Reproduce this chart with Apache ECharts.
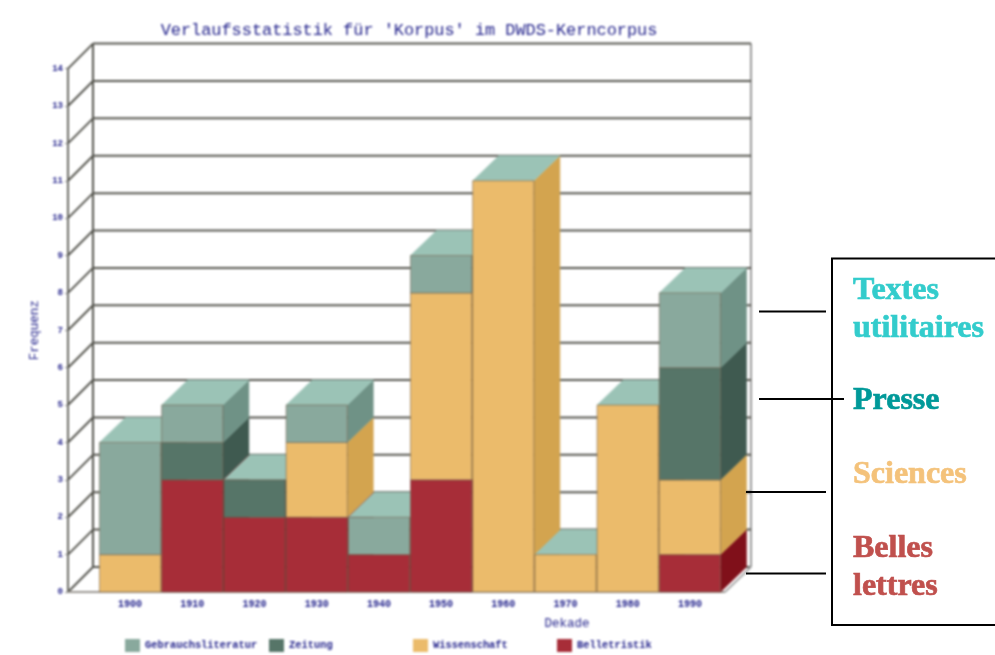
<!DOCTYPE html>
<html><head><meta charset="utf-8">
<style>html,body{margin:0;padding:0;background:#fff}
#c,#n{width:995px;height:655px;position:absolute;left:0;top:0}
#c{filter:blur(1px)}</style>
<script src="https://cdn.jsdelivr.net/npm/echarts@6/dist/echarts.min.js"></script>
</head><body><div id="c"></div><div id="n"></div>
<script>
const categories=['1900','1910','1920','1930','1940','1950','1960','1970','1980','1990'];
const belletristik=[0,3,2,2,1,3,0,0,0,1];
const wissenschaft=[1,0,0,2,0,5,11,1,5,2];
const zeitung=[0,1,1,0,0,0,0,0,0,3];
const gebrauch=[3,1,0,1,1,1,0,0,0,2];
const yTicks=[0,1,2,3,4,5,6,7,8,9,10,11,12,13,14];
const layers=[
 {name:'Belletristik',values:belletristik,front:'#A72D38',side:'#80101A'},
 {name:'Wissenschaft',values:wissenschaft,front:'#EBBB6B',side:'#D3A44F'},
 {name:'Zeitung',values:zeitung,front:'#567568',side:'#3F5A50'},
 {name:'Gebrauchsliteratur',values:gebrauch,front:'#89A99D',side:'#6F9286'}
];
const TOP='#9BC3B6',DX=26,DY=25,NAVY='#24248C',MONO='"Liberation Mono","DejaVu Sans Mono",monospace';
const chart=echarts.init(document.getElementById('c'),null,{renderer:'canvas'});
function poly(points,fill,z2,stroke){return {type:'polygon',z2,shape:{points},style:{fill,stroke:stroke||fill,lineWidth:stroke?1:0.5}};}
function line(x1,y1,x2,y2,stroke,w,z2){return {type:'line',z2:z2||0,shape:{x1,y1,x2,y2},style:{stroke,lineWidth:w}};}
function barSeries(layer,li){
 const data=categories.map((c,i)=>{
  let base=0;for(let k=0;k<li;k++)base+=layers[k].values[i];
  let upper=0;for(let k=li+1;k<layers.length;k++)upper+=layers[k].values[i];
  return [i,base,base+layer.values[i],upper===0?1:0];
 });
 return {type:'custom',name:layer.name,itemStyle:{color:layer.front},encode:{x:0,y:[1,2]},data,
  renderItem(params,api){
   const i=api.value(0),b=api.value(1),t=api.value(2),isTop=api.value(3);
   if(t<=b)return null;
   const p0=api.coord([i,b]),p1=api.coord([i,t]),w=api.size([1,0])[0];
   const l=p0[0]-w/2+0.5,r=p0[0]+w/2-0.5,yb=p0[1],yt=p1[1],z=i*10+li+10;
   const ch=[
    poly([[r,yb],[r+DX,yb-DY],[r+DX,yt-DY],[r,yt]],layer.side,z),
    poly([[l,yb],[r,yb],[r,yt],[l,yt]],layer.front,z+1,'rgba(110,90,70,0.55)')
   ];
   if(isTop)ch.push(poly([[l,yt],[r,yt],[r+DX,yt-DY],[l+DX,yt-DY]],TOP,z));
   return {type:'group',children:ch};
  }};
}
const frame={type:'custom',name:'frame',silent:true,encode:{x:0,y:1},data:yTicks.map(v=>[0,v]),
 renderItem(params,api){
  const v=api.value(1),y=api.coord([0,v])[1],cs=params.coordSys;
  const l=cs.x-31,r=cs.x+cs.width+4,g='#55554e',ch=[];
  ch.push(line(l+DX-1,y-DY,r+DX,y-DY,g,2,1));
  ch.push(line(l,y,l+DX-1,y-DY,g,2,1));
  if(v===0){
   const top=cs.y;
   ch.push(line(l,y,r,y,'#99958f',2,1));
   ch.push(line(r,y,r+DX,y-DY,'#aaaaaa',2,1));
   ch.push(line(l+DX-1,y-DY,l+DX-1,top-DY,g,2,1));
   ch.push(line(r+DX,y-DY,r+DX,top-DY,'#9a9a9a',2,1));
  }
  return {type:'group',children:ch};
 }};
const legendLefts=[120,264,408,552];
const legendNames=['Gebrauchsliteratur','Zeitung','Wissenschaft','Belletristik'];
chart.setOption({
 animation:false,backgroundColor:'#fff',
 title:{text:"Verlaufsstatistik für 'Korpus' im DWDS-Kerncorpus",left:404,top:17,textAlign:'center',
  textStyle:{fontFamily:MONO,fontSize:16.9,fontWeight:'normal',color:NAVY}},
 grid:{left:99,top:68.6,width:622,height:523.4},
 legend:legendNames.map((n,i)=>({data:[n],left:legendLefts[i],top:634,itemWidth:15,itemHeight:13,itemGap:0,icon:'rect',
  textStyle:{fontFamily:MONO,fontSize:10.4,fontWeight:'bold',color:NAVY},selectedMode:false})),
 xAxis:{type:'category',data:categories,boundaryGap:true,axisLine:{show:false},axisTick:{show:false},
  axisLabel:{margin:7,fontFamily:MONO,fontSize:10,fontWeight:'bold',color:NAVY,interval:0},
  name:'Dekade',nameLocation:'middle',nameGap:25,
  nameTextStyle:{fontFamily:MONO,fontSize:12.5,color:NAVY,padding:[0,0,0,314]},splitLine:{show:false}},
 yAxis:{type:'value',min:0,max:14,interval:1,offset:31,position:'left',
  axisLine:{show:true,lineStyle:{color:'#6a6a63',width:2}},axisTick:{show:true,length:3,lineStyle:{color:'#888'}},
  axisLabel:{margin:5,fontFamily:MONO,fontSize:9,fontWeight:'bold',color:NAVY},splitLine:{show:false},
  name:'Frequenz',nameLocation:'middle',nameGap:21,nameRotate:90,
  nameTextStyle:{fontFamily:MONO,fontSize:12.5,color:NAVY}},
 series:[frame].concat(layers.map(barSeries))
});
function noteText(text,top,color){return {text,left:853,top,padding:0,
 textStyle:{color,fontFamily:'Liberation Serif',fontWeight:'bold',fontSize:32,lineHeight:38,textBorderColor:color,textBorderWidth:0.7}};}
const noteChart=echarts.init(document.getElementById('n'),null,{renderer:'canvas'});
noteChart.setOption({
 animation:false,backgroundColor:'transparent',
 title:[
  noteText('Textes\nutilitaires',272,'#33CCCC'),
  noteText('Presse',382,'#009999'),
  noteText('Sciences',456,'#F4C27A'),
  noteText('Belles\nlettres',530,'#C0504D')
 ],
 graphic:[
  {type:'polyline',shape:{points:[[995,258.5],[832,258.5],[832,625],[995,625]]},style:{stroke:'#000',lineWidth:2,fill:null}},
  {type:'line',shape:{x1:759,y1:311.5,x2:826,y2:311.5},style:{stroke:'#000',lineWidth:2}},
  {type:'line',shape:{x1:759,y1:399,x2:844,y2:399},style:{stroke:'#000',lineWidth:2}},
  {type:'line',shape:{x1:746,y1:492,x2:826,y2:492},style:{stroke:'#000',lineWidth:2}},
  {type:'line',shape:{x1:746,y1:573.5,x2:826,y2:573.5},style:{stroke:'#000',lineWidth:2}}
 ]
});
</script></body></html>
